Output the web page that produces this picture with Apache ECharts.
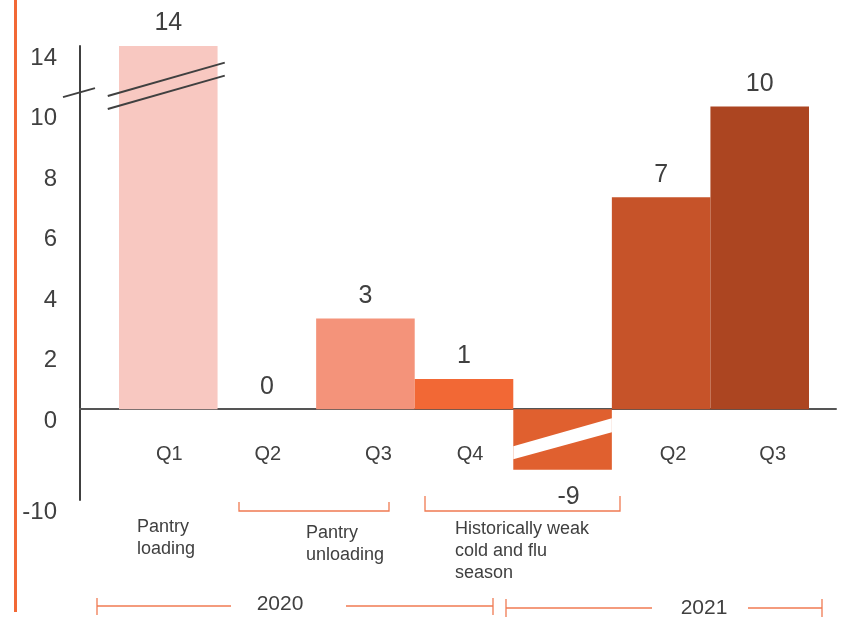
<!DOCTYPE html>
<html>
<head>
<meta charset="utf-8">
<script src="https://cdn.jsdelivr.net/npm/echarts@6/dist/echarts.min.js"></script>
<style>
  html, body { margin: 0; padding: 0; background: #fff; }
  #chart { width: 848px; height: 619px; }
</style>
</head>
<body>
<div id="chart"></div>
<script>
// 数据
const categories = ['Q1', 'Q2', 'Q3', 'Q4', 'Q1', 'Q2', 'Q3'];
const values = [14, 0, 3, 1, -9, 7, 10];
const barColors = ['#F8C8C1', '#F8C8C1', '#F4937A', '#F26835', '#E0602F', '#C65329', '#AC4521'];
// 断轴：轴上显示的刻度
const yTickValues = [-3, 0, 2, 4, 6, 8, 10, 12];
const yTickLabels = ['-10', '0', '2', '4', '6', '8', '10', '14'];
const breakHigh = 12;
const breakLow = -2;

const FONT = 'Liberation Sans, Arial, sans-serif';
const TEXT = '#404040';
const ORANGE = '#F07A52';

// x 轴标签的水平微调（像素）
const labelNudge = [1, 1, 13, 6, 0, 12, 13];

// 断轴后画出来的高度
const drawn = values.map(v => Math.max(breakLow, Math.min(breakHigh, v)));

const rich = {};
labelNudge.forEach((n, i) => {
  rich['s' + i] = { fontSize: 20, fontFamily: FONT, color: TEXT, padding: [0, 0, 0, 2 * n] };
});

const chart = echarts.init(document.getElementById('chart'));

const line = (x1, y1, x2, y2) => ({
  type: 'line',
  shape: { x1, y1, x2, y2 },
  style: { stroke: ORANGE, lineWidth: 1.3 }
});
const note = (x, y, text, size) => ({
  type: 'text',
  x, y,
  style: { text, fill: TEXT, font: size + 'px ' + FONT, lineHeight: 22, verticalAlign: 'top' }
});

const options = {
  animation: false,
  grid: [
    { left: 80, right: 12, top: 46, bottom: 119 },
    { left: 119, right: 39, top: 46, bottom: 119 }
  ],
  xAxis: [
    {
      gridIndex: 0, type: 'value', min: 0, max: 1,
      axisLine: { show: true, onZero: true, lineStyle: { color: '#555', width: 2 } },
      axisTick: { show: false }, axisLabel: { show: false }, splitLine: { show: false }
    },
    {
      gridIndex: 1, type: 'category', data: categories,
      offset: -90, // 标签放在零线下方
      axisLine: { show: false, onZero: false },
      axisTick: { show: false },
      axisLabel: {
        margin: 34,
        color: TEXT,
        fontSize: 20,
        fontFamily: FONT,
        rich,
        formatter: (v, i) => (i === 4 ? '' : '{s' + i + '|' + v + '}')
      }
    }
  ],
  yAxis: [
    {
      gridIndex: 0, type: 'value', min: -3, max: 12, interval: 1,
      axisLine: { show: true, onZero: false, lineStyle: { color: '#404040', width: 2 } },
      axisTick: { show: false },
      splitLine: { show: false },
      axisLabel: {
        margin: 23,
        color: TEXT,
        fontSize: 24,
        fontFamily: FONT,
        verticalAlign: 'top',
        formatter: v => {
          const i = yTickValues.indexOf(v);
          return i >= 0 ? yTickLabels[i] : '';
        }
      }
    },
    {
      gridIndex: 1, type: 'value', min: -3, max: 12,
      axisLine: { show: false, onZero: false }, axisTick: { show: false },
      axisLabel: { show: false }, splitLine: { show: false }
    }
  ],
  series: [
    {
      type: 'bar',
      xAxisIndex: 1,
      yAxisIndex: 1,
      barCategoryGap: '0%',
      data: drawn.map((v, i) => ({ value: v, itemStyle: { color: barColors[i] } })),
      label: {
        show: true,
        position: 'top',
        distance: 10,
        color: TEXT,
        fontSize: 25,
        fontFamily: FONT,
        formatter: p => String(values[p.dataIndex])
      },
      labelLayout: p => (values[p.dataIndex] < 0 ? { dy: p.rect.height + 50, dx: 6 } : {})
    },
    {
      // 断轴标记（柱子上的两条斜线和负值柱子上的白色斜条）
      type: 'custom',
      xAxisIndex: 1,
      yAxisIndex: 1,
      z: 5,
      data: values.map((v, i) => [i, v]).filter(d => d[1] > breakHigh || d[1] < breakLow),
      renderItem: (params, api) => {
        const idx = api.value(0);
        const v = api.value(1);
        const cx = api.coord([idx, 0])[0];
        const w = api.size([1, 0])[0];
        const y = val => api.coord([idx, val])[1];
        if (v > breakHigh) {
          const xl = cx - 0.614 * w;
          const xr = cx + 0.573 * w;
          const st = { stroke: '#404040', lineWidth: 2 };
          return {
            type: 'group',
            children: [
              { type: 'line', shape: { x1: xl, y1: y(10.35), x2: xr, y2: y(11.45) }, style: st },
              { type: 'line', shape: { x1: xl, y1: y(9.92), x2: xr, y2: y(11.02) }, style: st }
            ]
          };
        }
        const xl = cx - w / 2;
        const xr = cx + w / 2;
        return {
          type: 'polygon',
          shape: { points: [[xl, y(-1.22)], [xr, y(-0.3)], [xr, y(-0.76)], [xl, y(-1.65)]] },
          style: { fill: '#fff' }
        };
      }
    },
    {
      // y 轴上的断轴标记
      type: 'custom',
      xAxisIndex: 0,
      yAxisIndex: 0,
      z: 5,
      data: [[0, 10.46]],
      renderItem: (params, api) => {
        const p = api.coord([api.value(0), api.value(1)]);
        return {
          type: 'line',
          shape: { x1: p[0] - 17, y1: p[1] + 4.5, x2: p[0] + 15, y2: p[1] - 4.5 },
          style: { stroke: '#404040', lineWidth: 2 }
        };
      }
    }
  ],
  graphic: [
    { type: 'rect', shape: { x: 14, y: 0, width: 3, height: 612 }, style: { fill: '#F26835' } },
    // 括号
    { type: 'polyline', shape: { points: [[239, 502], [239, 511], [389, 511], [389, 502]] }, style: { stroke: ORANGE, lineWidth: 1.3, fill: null } },
    { type: 'polyline', shape: { points: [[425, 496], [425, 511], [620, 511], [620, 496]] }, style: { stroke: ORANGE, lineWidth: 1.3, fill: null } },
    note(137, 516, 'Pantry\nloading', 18),
    note(306, 522, 'Pantry\nunloading', 18),
    note(455, 518, 'Historically weak\ncold and flu\nseason', 18),
    // 年份
    line(97, 606, 231, 606), line(97, 598, 97, 615),
    line(346, 606, 493, 606), line(493, 598, 493, 615),
    line(506, 608, 652, 608), line(506, 599, 506, 617),
    line(748, 608, 822, 608), line(822, 599, 822, 617),
    {
      type: 'text', x: 280, y: 604,
      style: { text: '2020', fill: TEXT, font: '21px ' + FONT, align: 'center', verticalAlign: 'middle' }
    },
    {
      type: 'text', x: 704, y: 608,
      style: { text: '2021', fill: TEXT, font: '21px ' + FONT, align: 'center', verticalAlign: 'middle' }
    }
  ]
};

chart.setOption(options);
window.addEventListener('resize', () => chart.resize());
</script>
</body>
</html>
